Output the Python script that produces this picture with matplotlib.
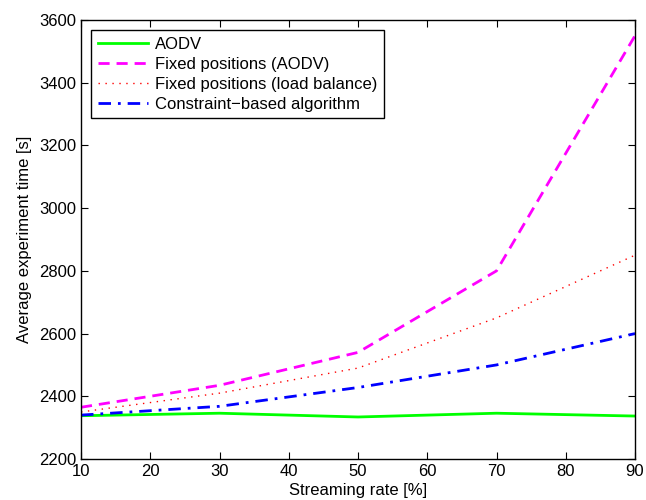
import matplotlib
matplotlib.use("Agg")
import matplotlib.pyplot as plt

plt.rcParams["font.family"] = ["Liberation Sans", "DejaVu Sans"]

rate = [10, 30, 50, 70, 90]
aodv = [2338, 2346, 2334, 2346, 2337]
fixed_aodv = [2365, 2435, 2540, 2800, 3550]
fixed_lb = [2350, 2410, 2490, 2650, 2850]
constraint = [2340, 2368, 2428, 2500, 2600]

fig = plt.figure(figsize=(6.46, 5.00), dpi=100, facecolor="white")
ax = fig.add_axes([0.1254, 0.082, 0.8576, 0.878])

ax.plot(rate, aodv, color="#00ff00", lw=2.0, label="AODV")
ax.plot(rate, fixed_aodv, color="#ff00ff", lw=2.0, ls=(0, (4, 2.5)),
        label="Fixed positions (AODV)")
ax.plot(rate, fixed_lb, color="#ff0000", lw=1.0, ls=(0, (1, 4)),
        label="Fixed positions (load balance)")
ax.plot(rate, constraint, color="#0000ff", lw=2.0, ls=(0, (4.5, 2.5, 1, 2.5)),
        label="Constraint\u2212based algorithm")

ax.set_xlim(10, 90)
ax.set_ylim(2200, 3600)
ax.set_xticks(range(10, 91, 10))
ax.set_yticks(range(2200, 3601, 200))
ax.tick_params(direction="in", top=True, right=True, length=5, labelsize=12)
for sp in ax.spines.values():
    sp.set_linewidth(1.0)

ax.set_xlabel("Streaming rate [%]", fontsize=12, labelpad=3)
ax.set_ylabel("Average experiment time [s]", fontsize=12, labelpad=5)

leg = ax.legend(loc="upper left", fontsize=12, handlelength=3.0,
                fancybox=False, framealpha=1, edgecolor="black",
                borderpad=0.4, labelspacing=0.3, handletextpad=0.45,
                borderaxespad=0.6)
leg.get_frame().set_linewidth(1.0)

fig.savefig("out.png", dpi=100, facecolor="white")
